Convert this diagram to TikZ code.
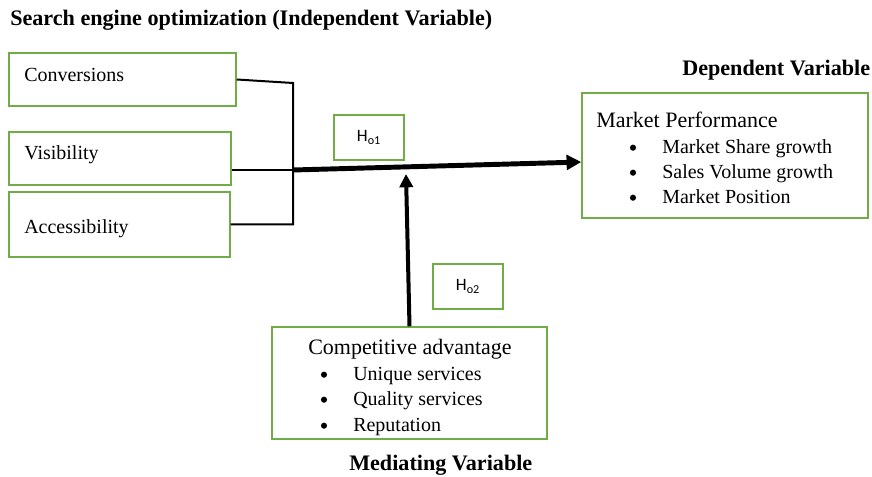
\documentclass[tikz,border=0pt]{standalone}
\usepackage{fontspec}
\setmainfont{Liberation Serif}
\newfontfamily\hypfont{Carlito}
\usetikzlibrary{fit,arrows.meta}

\definecolor{boxgreen}{RGB}{112,173,71}

\tikzset{
  box/.style={draw=boxgreen, line width=1.1pt, inner sep=0pt},
  txt/.style={anchor=base west, inner sep=0pt, yshift=-1.5pt},
  boxtitle/.style={txt, font=\fontsize{16.5}{19}\selectfont},
  bul/.style={circle, fill=black, inner sep=0pt, minimum size=4.6pt, yshift=-1.5pt},
  head/.style={txt, font=\fontsize{16.6}{19}\selectfont\bfseries},
  hyp/.style={inner sep=0pt, font=\hypfont\fontsize{13}{15}\selectfont},
  link/.style={line width=1.5pt},
  mainarrow/.style={line width=3.7pt, -{Triangle[length=11pt,width=11pt]}},
  medarrow/.style={line width=3pt, -{Triangle[length=10pt,width=10pt]}}
}

\begin{document}
\begin{tikzpicture}[x=0.75pt, y=-0.75pt, font=\fontsize{15}{18}\selectfont]
\useasboundingbox (0,0) rectangle (872,477);

% Titres
\node[head] (tiv) at (10,24) {Search engine optimization (Independent Variable)};
\node[head] (tdv) at (682,74) {Dependent Variable};
\node[head] (tmv) at (349,469) {Mediating Variable};

% Variables independantes
\node[box, fit={(9,53) (236,106)}] (conv) {};
\node[box, fit={(9,132) (231,185)}] (vis) {};
\node[box, fit={(9,192) (230,257)}] (acc) {};
\node[txt] (convt) at (24,80) {Conversions};
\node[txt] (vist) at (24,158) {Visibility};
\node[txt] (acct) at (24,232) {Accessibility};

% Variable dependante
\node[box, fit={(582,93) (868,218)}] (mp) {};
\node[boxtitle] (mpt) at (596,126) {Market Performance};
\foreach \y/\t [count=\i] in {152/Market Share growth, 177/Sales Volume growth, 202/Market Position}
{
\node[bul] (mpb\i) at (633,\y-6.3) {};
\node[txt] (mpi\i) at (662,\y) {\t};
}

% Variable mediatrice
\node[box, fit={(272,327) (547,439)}] (comp) {};
\node[boxtitle] (compt) at (308,353) {Competitive advantage};
\foreach \y/\t [count=\i] in {379/Unique services, 404/Quality services, 430/Reputation}
{
\node[bul] (cb\i) at (324,\y-6.3) {};
\node[txt] (ci\i) at (353,\y) {\t};
}

% Hypotheses
\node[box, fit={(334,115) (404,160)}] (ho1) {};
\node[hyp] (ho1t) at (ho1.center) {H\textsubscript{o1}};
\node[box, fit={(433,264) (503,309)}] (ho2) {};
\node[hyp] (ho2t) at (ho2.center) {H\textsubscript{o2}};

% Liaisons
\coordinate (j) at (293,170);
\coordinate (foot) at (406,174);
\draw[link] (conv.east) -- (293,83) |- (acc.east);
\draw[link] (vis.east |- j) -- (j);
\draw[mainarrow] (j) -- ([yshift=-4.9pt]mp.west);
\draw[medarrow] (comp.north) -- (foot);

\end{tikzpicture}
\end{document}
